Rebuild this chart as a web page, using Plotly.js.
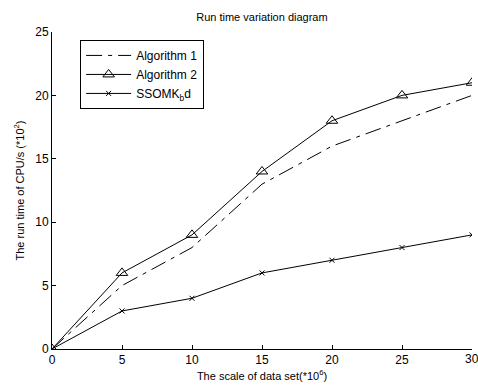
<!DOCTYPE html>
<html><head><meta charset="utf-8">
<script src="https://cdn.plot.ly/plotly-3.0.1.min.js"></script>
<style>html,body{margin:0;padding:0;background:#fff;}#chart{width:478px;height:385px;}</style>
</head><body><div id="chart"></div>
<script>
const xScale = [0, 5, 10, 15, 20, 25, 30];
const algorithm1 = [0, 5, 8, 13, 16, 18, 20];
const algorithm2 = [0, 6, 9, 14, 18, 20, 21];
const ssomkbd = [0, 3, 4, 6, 7, 8, 9];
const seriesNames = ['Algorithm 1', 'Algorithm 2', 'SSOMK<sub>b</sub>d'];
const xTicks = [0, 5, 10, 15, 20, 25];
const xLastTick = 30;
const yTicks = [0, 5, 10, 15, 20, 25];

const fam = 'Liberation Sans, Arial, sans-serif';
const font = {family: fam, size: 11, color: '#000'};
const traces = [
  {x: xScale, y: algorithm1, name: seriesNames[0], mode: 'lines',
   line: {color: '#000', width: 1, dash: '16px,6px,4px,6px'}},
  {x: xScale, y: algorithm2, name: seriesNames[1], mode: 'lines+markers',
   line: {color: '#000', width: 1},
   marker: {symbol: 'triangle-up-open', size: 10, color: '#000', line: {width: 1, color: '#000'}}},
  {x: xScale, y: ssomkbd, name: seriesNames[2], mode: 'lines+markers',
   line: {color: '#000', width: 1},
   marker: {symbol: 'x-thin-open', size: 5, color: '#000', line: {width: 1, color: '#000'}}}
];
const layout = {
  width: 478, height: 385,
  margin: {l: 52, r: 6, t: 32, b: 36},
  paper_bgcolor: '#fff', plot_bgcolor: '#fff',
  font: font,
  title: {text: 'Run time variation diagram', font: {family: fam, size: 11, color: '#000'}, x: 0.548, xanchor: 'center', y: 0.955, yanchor: 'middle'},
  xaxis: {range: [0, 30], tickvals: xTicks.concat([xLastTick]), ticktext: xTicks.map(String).concat(['']),
          ticks: 'inside', ticklen: 4, tickcolor: '#000',
          showline: true, linecolor: '#000', linewidth: 1, showgrid: false, zeroline: false,
          tickfont: {family: fam, size: 12, color: '#000'},
          title: {text: 'The scale of data set(*10<sup>6</sup>)', font: {family: fam, size: 11, color: '#000'}, standoff: 5}},
  yaxis: {range: [0, 25], tickvals: yTicks, ticks: 'inside', ticklen: 4, tickcolor: '#000',
          showline: true, linecolor: '#000', linewidth: 1, showgrid: false, zeroline: false,
          tickfont: {family: fam, size: 12, color: '#000'},
          title: {text: 'The run time of CPU/s (*10<sup>2</sup>)', font: {family: fam, size: 11, color: '#000'}, standoff: 8}},
  legend: {x: 0.067, y: 0.975, xanchor: 'left', yanchor: 'top', bgcolor: '#fff',
           bordercolor: '#000', borderwidth: 1, font: {family: fam, size: 12, color: '#000'},
           tracegroupgap: 0, itemwidth: 45},
  annotations: [{x: xLastTick, y: 0, xref: 'x', yref: 'y', text: String(xLastTick), showarrow: false,
                 xanchor: 'center', yanchor: 'top', yshift: -1, font: {family: fam, size: 12, color: '#000'}}],
  showlegend: true
};
Plotly.newPlot('chart', traces, layout, {displayModeBar: false, staticPlot: true});
</script></body></html>
